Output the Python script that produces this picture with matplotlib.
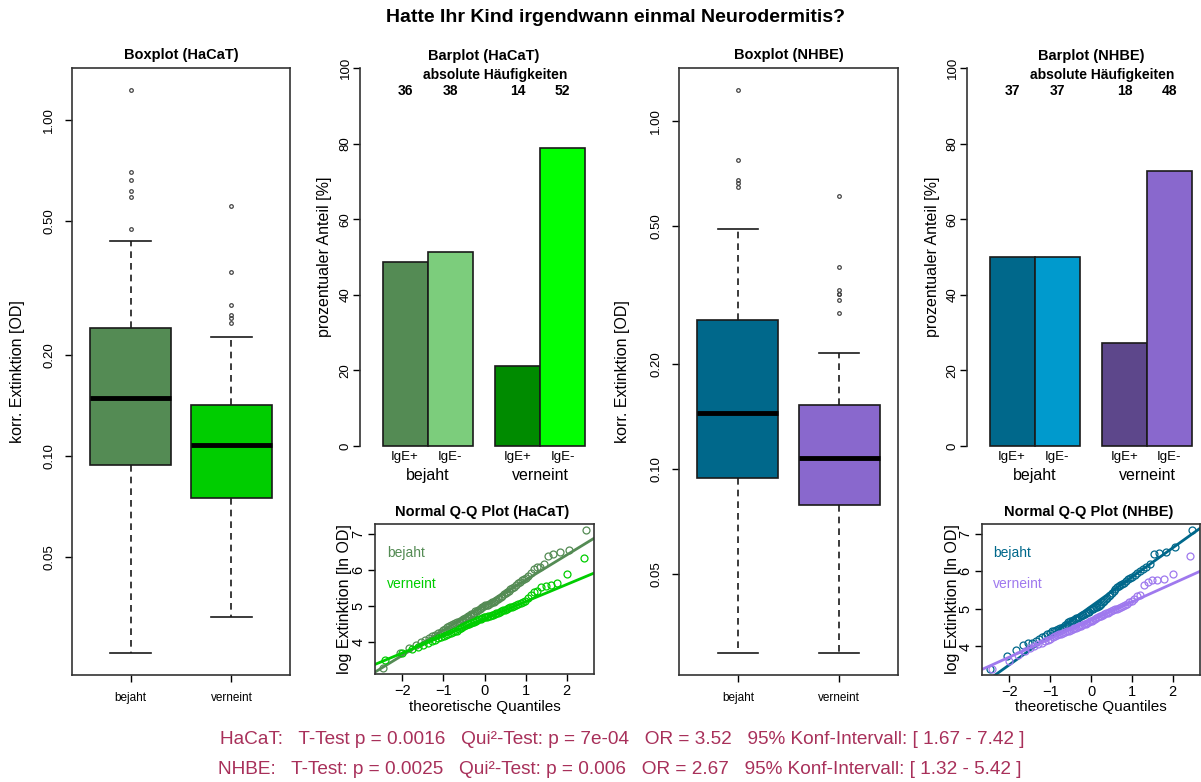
import numpy as np
import matplotlib
matplotlib.use('Agg')
import matplotlib.pyplot as plt
from matplotlib.ticker import NullLocator
from statistics import NormalDist

W, H = 1201, 782

# ---- data -------------------------------------------------------------
groups = ['bejaht', 'verneint']
ige = ['IgE+', 'IgE-']

# log Extinktion [ln OD] = ln(1000 * OD), sorted values per group
hacat_bejaht = [3.26, 3.68, 3.82, 3.92, 4.00, 4.06, 4.10, 4.15, 4.20, 4.24,
                4.28, 4.32, 4.36, 4.40, 4.43, 4.46, 4.49, 4.51, 4.54, 4.56,
                4.58, 4.61, 4.63, 4.66, 4.68, 4.71, 4.73, 4.76, 4.78, 4.81,
                4.84, 4.86, 4.88, 4.91, 4.93, 4.96, 4.99, 5.01, 5.02, 5.03,
                5.05, 5.07, 5.09, 5.11, 5.13, 5.16, 5.19, 5.22, 5.25, 5.28,
                5.31, 5.34, 5.38, 5.42, 5.46, 5.49, 5.52, 5.56, 5.62, 5.66,
                5.72, 5.75, 5.78, 5.82, 5.90, 6.02, 6.06, 6.08, 6.16, 6.38,
                6.42, 6.50, 6.55, 7.11]
hacat_verneint = [3.50, 3.68, 3.79, 3.86, 3.92, 3.97, 4.02, 4.06, 4.10, 4.13,
                  4.16, 4.19, 4.22, 4.25, 4.27, 4.29, 4.31, 4.34, 4.37, 4.40,
                  4.43, 4.46, 4.48, 4.50, 4.52, 4.54, 4.56, 4.58, 4.60, 4.62,
                  4.64, 4.66, 4.68, 4.68, 4.69, 4.70, 4.72, 4.73, 4.75, 4.77,
                  4.79, 4.81, 4.83, 4.85, 4.87, 4.89, 4.91, 4.93, 4.95, 4.96,
                  4.99, 5.01, 5.04, 5.07, 5.10, 5.14, 5.20, 5.30, 5.38, 5.42,
                  5.52, 5.55, 5.57, 5.64, 5.87, 6.32]
nhbe_bejaht = [3.39, 3.75, 3.90, 4.03, 4.08, 4.10, 4.15, 4.20, 4.24, 4.28,
               4.33, 4.37, 4.40, 4.42, 4.44, 4.46, 4.48, 4.50, 4.53, 4.58,
               4.61, 4.64, 4.67, 4.69, 4.71, 4.73, 4.75, 4.77, 4.79, 4.81,
               4.83, 4.85, 4.87, 4.89, 4.91, 4.93, 4.96, 4.99, 5.00, 5.02,
               5.04, 5.06, 5.08, 5.11, 5.14, 5.18, 5.22, 5.26, 5.30, 5.34,
               5.38, 5.42, 5.47, 5.52, 5.57, 5.60, 5.63, 5.66, 5.70, 5.74,
               5.79, 5.83, 5.86, 5.90, 5.96, 6.02, 6.07, 6.12, 6.19, 6.47,
               6.50, 6.52, 6.65, 7.11]
nhbe_verneint = [3.39, 3.62, 3.78, 3.88, 3.96, 4.02, 4.06, 4.10, 4.14, 4.18,
                 4.21, 4.24, 4.27, 4.30, 4.32, 4.34, 4.36, 4.38, 4.40, 4.42,
                 4.44, 4.46, 4.48, 4.50, 4.52, 4.54, 4.55, 4.57, 4.59, 4.61,
                 4.63, 4.65, 4.67, 4.69, 4.71, 4.73, 4.75, 4.78, 4.80, 4.82,
                 4.84, 4.86, 4.88, 4.90, 4.92, 4.94, 4.96, 4.99, 5.01, 5.03,
                 5.05, 5.07, 5.10, 5.14, 5.18, 5.22, 5.27, 5.33, 5.37, 5.64,
                 5.72, 5.76, 5.76, 5.79, 5.94, 6.41]

# absolute Haeufigkeiten: bejaht IgE+, bejaht IgE-, verneint IgE+, verneint IgE-
counts_hacat = [36, 38, 14, 52]
counts_nhbe = [37, 37, 18, 48]

stats_text = [
    'HaCaT:   T-Test p = 0.0016   Qui²-Test: p = 7e-04   OR = 3.52   95% Konf-Intervall: [ 1.67 - 7.42 ]',
    'NHBE:   T-Test: p = 0.0025   Qui²-Test: p = 0.006   OR = 2.67   95% Konf-Intervall: [ 1.32 - 5.42 ]',
]

plt.rcParams['font.family'] = ['Liberation Sans', 'DejaVu Sans']

fig = plt.figure(figsize=(W / 100, H / 100), dpi=100)


def rect(l, t, r, b):
    return [l / W, 1 - b / H, (r - l) / W, (b - t) / H]


def ftext(x, y, s, **kw):
    kw.setdefault('ha', 'center')
    kw.setdefault('va', 'center')
    fig.text(x / W, 1 - y / H, s, **kw)


def boxplot_panel(box, title, data, colors, label_x):
    l, t, r, b = box
    ax = fig.add_axes(rect(l, t, r, b))
    od = [np.exp(np.array(v)) / 1000 for v in data]
    ax.set_yscale('log')
    bp = ax.boxplot(od, positions=[1, 2], widths=0.8, whis=1.5, patch_artist=True,
                    capwidths=0.4,
                    boxprops=dict(edgecolor='#1a1a1a', linewidth=1.2),
                    medianprops=dict(color='black', linewidth=3.5),
                    whiskerprops=dict(color='#1a1a1a', linewidth=1.2, linestyle=(0, (4, 3))),
                    capprops=dict(color='#1a1a1a', linewidth=1.2),
                    flierprops=dict(marker='o', markersize=2.6, markerfacecolor='none',
                                    markeredgecolor='#444444', markeredgewidth=0.9))
    for patch, c in zip(bp['boxes'], colors):
        patch.set_facecolor(c)
    lo = np.log10(min(min(v) for v in od))
    hi = np.log10(max(max(v) for v in od))
    pad = 0.04 * (hi - lo)
    ax.set_ylim(10 ** (lo - pad), 10 ** (hi + pad))
    ax.set_xlim(0.42, 2.58)
    ax.set_yticks([0.05, 0.1, 0.2, 0.5, 1.0])
    ax.set_yticklabels(['0.05', '0.10', '0.20', '0.50', '1.00'], rotation=90, va='center')
    ax.yaxis.set_minor_locator(NullLocator())
    ax.set_xticks([1, 2])
    ax.set_xticklabels(groups)
    ax.tick_params(axis='y', direction='out', length=5, width=1, pad=7, labelsize=9.5)
    ax.tick_params(axis='x', direction='out', length=5, width=1, pad=7, labelsize=8.5)
    for s in ax.spines.values():
        s.set_linewidth(1.2)
        s.set_color('#333333')
    ftext((l + r) / 2, 55, title, fontsize=10.5, fontweight='bold')
    ftext(label_x, (t + b) / 2, 'korr. Extinktion [OD]', rotation=90, fontsize=11.5)
    return ax


def barplot_panel(left, title, counts, colors, label_x):
    unit = 3.78   # px per percent
    bw = 45       # px per bar
    ax = fig.add_axes(rect(left, 68 - 4 * unit, left + 5.2 * bw, 446 + 4 * unit))
    pct = []
    for k in range(0, len(counts), 2):
        tot = counts[k] + counts[k + 1]
        pct += [counts[k] / tot * 100, counts[k + 1] / tot * 100]
    xs = [1, 2, 3.5, 4.5]
    ax.bar(xs, pct, width=1, color=colors, edgecolor='#1a1a1a', linewidth=1.2)
    ax.set_xlim(0, 5.2)
    ax.set_ylim(-4, 104)
    for side in ['top', 'right', 'bottom']:
        ax.spines[side].set_visible(False)
    ax.spines['left'].set_bounds(0, 100)
    ax.spines['left'].set_linewidth(1.2)
    ax.spines['left'].set_color('#333333')
    ax.set_xticks([])
    ax.set_yticks([0, 20, 40, 60, 80, 100])
    ax.set_yticklabels(['0', '20', '40', '60', '80', '100'], rotation=90, va='center')
    ax.tick_params(axis='y', direction='out', length=5, width=1, pad=1, labelsize=9.5)
    for x, c in zip(xs, counts):
        ax.text(x, 94.0, str(c), ha='center', va='center', fontsize=10, fontweight='bold')
    ax.text(3.0, 98.1, 'absolute Häufigkeiten', ha='center', va='center',
            fontsize=10, fontweight='bold')
    for k, x in enumerate(xs):
        ax.text(x, -2.9, ige[k % 2], ha='center', va='center', fontsize=9.5, clip_on=False)
    ax.text(1.5, -7.7, groups[0], ha='center', va='center', fontsize=11.5, clip_on=False)
    ax.text(4.0, -7.7, groups[1], ha='center', va='center', fontsize=11.5, clip_on=False)
    ax.text(2.75, 103.2, title, ha='center', va='center', fontsize=10.5, fontweight='bold',
            clip_on=False)
    ftext(label_x, 257, 'prozentualer Anteil [%]', rotation=90, fontsize=11.5)
    return ax


def qq_panel(box, title, data, colors, label_x, text_x):
    l, t, r, b = box
    ax = fig.add_axes(rect(l, t, r, b))
    nd = NormalDist()
    zmax = 0
    for vals, col in zip(data, colors):
        y = np.sort(np.array(vals))
        n = len(y)
        z = np.array([nd.inv_cdf((i - 0.5) / n) for i in range(1, n + 1)])
        zmax = max(zmax, z.max())
        ax.plot(z, y, linestyle='none', marker='o', markersize=5, markerfacecolor='none',
                markeredgecolor=col, markeredgewidth=0.9)
        q1, q3 = np.quantile(y, [0.25, 0.75])
        z1, z3 = nd.inv_cdf(0.25), nd.inv_cdf(0.75)
        slope = (q3 - q1) / (z3 - z1)
        ax.axline((0, q1 - slope * z1), slope=slope, color=col, linewidth=2)
    allv = np.concatenate([np.array(v) for v in data])
    ypad = 0.04 * (allv.max() - allv.min())
    ax.set_ylim(allv.min() - ypad, allv.max() + ypad)
    ax.set_xlim(-zmax * 1.08, zmax * 1.08)
    ax.set_xticks([-2, -1, 0, 1, 2])
    ax.set_yticks([4, 5, 6, 7])
    ax.set_yticklabels(['4', '5', '6', '7'], rotation=90, va='center')
    ax.tick_params(direction='out', length=5, width=1, pad=2, labelsize=10.5)
    for s in ax.spines.values():
        s.set_linewidth(1.2)
        s.set_color('#333333')
    ftext((l + r) / 2 - 2, 512, title, fontsize=10.5, fontweight='bold')
    ftext(label_x, (t + b) / 2, 'log Extinktion [ln OD]', rotation=90, fontsize=11.5)
    ftext((l + r) / 2, 707, 'theoretische Quantiles', fontsize=11)
    ftext(text_x, 553, groups[0], ha='left', color=colors[0], fontsize=10)
    ftext(text_x, 584, groups[1], ha='left', color=colors[1], fontsize=10)
    return ax


boxplot_panel((72, 68, 290, 675), 'Boxplot (HaCaT)', [hacat_bejaht, hacat_verneint],
              ['#548B54', '#00CD00'], 18)
barplot_panel(360, 'Barplot (HaCaT)', counts_hacat,
              ['#548B54', '#7CCD7C', '#008B00', '#00FF00'], 325)
qq_panel((375, 524, 594, 674), 'Normal Q-Q Plot (HaCaT)', [hacat_bejaht, hacat_verneint],
         ['#548B54', '#00CD00'], 345, 387)

boxplot_panel((679, 68, 898, 675), 'Boxplot (NHBE)', [nhbe_bejaht, nhbe_verneint],
              ['#00688B', '#8968CD'], 622)
barplot_panel(967, 'Barplot (NHBE)', counts_nhbe,
              ['#00688B', '#009ACD', '#5D478B', '#8968CD'], 932)
qq_panel((982, 524, 1200, 675), 'Normal Q-Q Plot (NHBE)', [nhbe_bejaht, nhbe_verneint],
         ['#00688B', '#9F79EE'], 952, 993)

ftext(615, 18, 'Hatte Ihr Kind irgendwann einmal Neurodermitis?', fontsize=14,
      fontweight='bold')
ftext(622, 740, stats_text[0], fontsize=13.7, color='#A8305A')
ftext(620, 770, stats_text[1], fontsize=13.7, color='#A8305A')

fig.savefig('out.png', dpi=100)
